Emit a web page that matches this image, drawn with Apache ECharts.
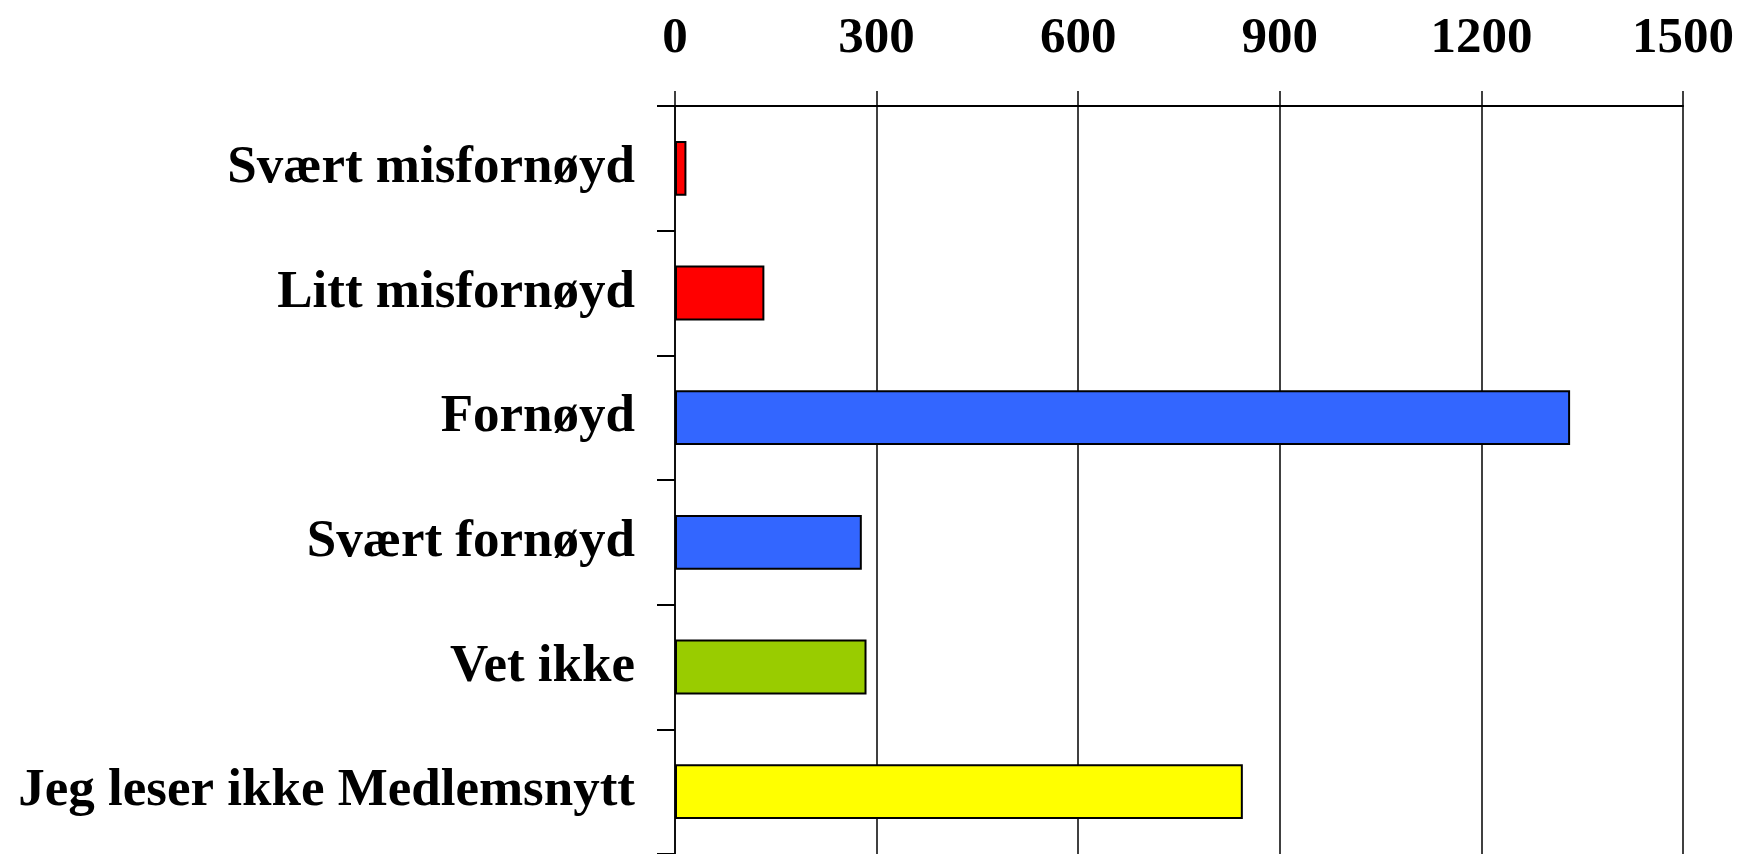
<!DOCTYPE html>
<html>
<head>
<meta charset="utf-8">
<title>Medlemsnytt</title>
<script src="https://cdn.jsdelivr.net/npm/echarts@6/dist/echarts.min.js"></script>
<style>
  html, body { margin: 0; padding: 0; background: #fff; }
  #chart { width: 1752px; height: 854px; }
</style>
</head>
<body>
<div id="chart"></div>
<script>
// kategorier, ovenfra og ned
const categories = ['Svært misfornøyd', 'Litt misfornøyd', 'Fornøyd', 'Svært fornøyd', 'Vet ikke', 'Jeg leser ikke Medlemsnytt']
const values = [17, 133, 1332, 278, 285, 845]
const barColors = ['#FF0000', '#FF0000', '#3366FF', '#3366FF', '#99CC00', '#FFFF00']
const xTicks = [0, 300, 600, 900, 1200, 1500]

const chart = echarts.init(document.getElementById('chart'))

const font = {
  fontFamily: '"Liberation Serif", "Times New Roman", serif',
  fontWeight: 'bold',
  color: '#000',
}

const option = {
  animation: false,
  backgroundColor: '#fff',
  grid: {
    left: 675,
    width: 1008,
    top: 106,
    height: 753, // plottet fortsetter under bildekanten
  },
  xAxis: {
    type: 'value',
    position: 'top',
    min: xTicks[0],
    max: xTicks[xTicks.length - 1],
    interval: 300,
    axisLine: { show: true, lineStyle: { color: '#000', width: 2 } },
    axisTick: { show: true, length: 15, lineStyle: { color: '#000', width: 1.5 } },
    splitLine: { show: true, lineStyle: { color: '#000', width: 1.5 } },
    axisLabel: {
      ...font,
      fontSize: 51,
      margin: 42,
      formatter: (v) => String(v),
    },
  },
  yAxis: {
    type: 'category',
    inverse: true,
    data: categories,
    axisLine: { show: true, lineStyle: { color: '#000', width: 1.5 } },
    axisTick: { show: true, length: 18, lineStyle: { color: '#000', width: 2 } },
    axisLabel: { ...font, fontSize: 53, margin: 40 },
  },
  series: [
    {
      type: 'bar',
      barWidth: '44%',
      data: values.map((v, i) => ({
        value: v,
        itemStyle: { color: barColors[i] },
      })),
      itemStyle: { borderColor: '#000', borderWidth: 2 },
    },
  ],
}

chart.setOption(option)
</script>
</body>
</html>
